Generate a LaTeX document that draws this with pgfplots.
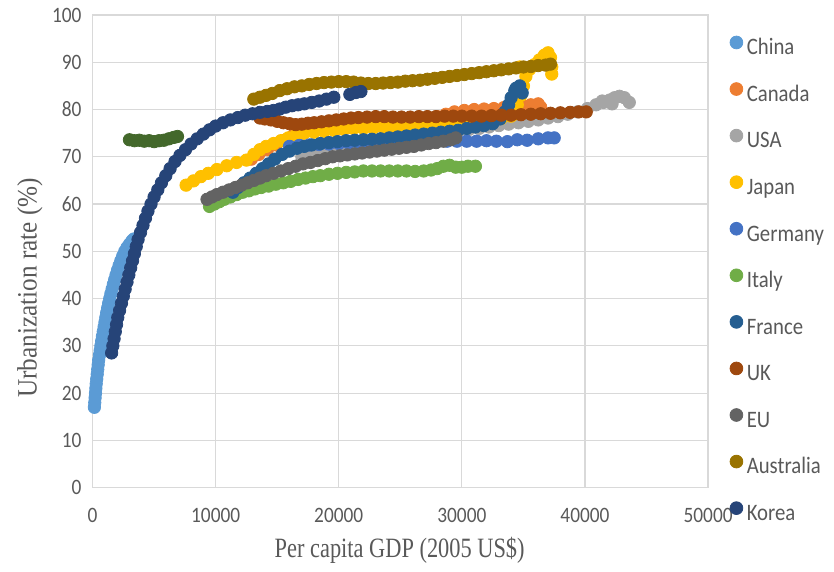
\documentclass[border=0pt]{standalone}
\usepackage{fontspec}
\setmainfont{Liberation Serif}
\newfontfamily\carl[FakeStretch=0.88]{Carlito}
\newfontfamily\tnr[FakeStretch=0.8]{Liberation Serif}
\newfontfamily\tnry[FakeStretch=0.9]{Liberation Serif}
\usepackage{pgfplots}
\pgfplotsset{compat=1.18}
\definecolor{cChina}{HTML}{5B9BD5}
\definecolor{cCanada}{HTML}{ED7D31}
\definecolor{cUSA}{HTML}{A5A5A5}
\definecolor{cJapan}{HTML}{FFC000}
\definecolor{cGermany}{HTML}{4472C4}
\definecolor{cItaly}{HTML}{70AD47}
\definecolor{cFrance}{HTML}{255E91}
\definecolor{cUK}{HTML}{9E480E}
\definecolor{cEU}{HTML}{636363}
\definecolor{cAus}{HTML}{997300}
\definecolor{cKorea}{HTML}{264478}
\definecolor{cDkGreen}{HTML}{43682B}
\definecolor{tcol}{HTML}{595959}
\definecolor{gridc}{HTML}{D9D9D9}
\pgfplotsset{dots/.style={only marks, mark=*, mark size=3.1pt, color=#1, mark options={draw=#1, fill=#1}}}
\begin{document}
\begin{tikzpicture}
\begin{axis}[
  scale only axis, width=308pt, height=236.5pt,
  xmin=0, xmax=50000, ymin=0, ymax=100,
  xtick={0,10000,20000,30000,40000,50000},
  ytick={0,10,20,30,40,50,60,70,80,90,100},
  scaled x ticks=false,
  /pgf/number format/1000 sep={},
  /pgf/number format/assume math mode=true,
  ticklabel style={font=\carl\fontsize{11}{13}\selectfont, text=tcol},
  xticklabel style={yshift=-7pt},
  yticklabel style={xshift=-2pt},
  grid=major, major grid style={draw=gridc, line width=0.6pt},
  axis line style={draw=gridc, line width=0.6pt},
  tick style={draw=none},
  xlabel={Per capita GDP (2005 US\$)},
  ylabel={Urbanization rate (\%)},
  xlabel style={font=\tnr\fontsize{14}{16}\selectfont, text=tcol, at={(axis description cs:0.499,-0.133)}, anchor=center},
  ylabel style={font=\tnry\fontsize{14}{16}\selectfont, text=tcol, at={(axis description cs:-0.1016,0.4225)}, anchor=center},
  legend image code/.code={\draw[#1, mark size=3.2pt] plot coordinates {(0cm,0.75ex)};},
  legend style={at={(axis description cs:1.035,0.4347)}, anchor=west, draw=none, fill=none,
    inner sep=0pt, font=\carl\fontsize{11.8}{13}\selectfont, text=tcol,
    nodes={inner sep=2pt, text height=8pt, text depth=2.5pt}, row sep=8.8pt},
  legend cell align=left,
]
% China
\addplot[dots=cChina] coordinates {(150,17) (180,18) (210,19) (240,20) (270,21) (300,22) (340,23) (380,24) (420,25) (460,26) (500,27) (560,28) (620,29) (680,30) (740,31) (800,32) (870,33) (940,34) (1010,35) (1080,36) (1150,37) (1230,38) (1310,39) (1400,40) (1490,41) (1590,42) (1690,43) (1800,44) (1910,45) (2030,46) (2160,47) (2300,48) (2450,49) (2620,50) (2800,50.8) (3000,51.5) (3200,52.2) (3350,52.6)};
\addlegendentry{China}
% Canada
\addplot[dots=cCanada] coordinates {(12900,69.5) (13500,70.5) (14200,71.5) (14900,72.5) (15600,73.5) (16300,74.5) (17000,75) (17800,75.5) (18600,75.7) (19400,75.9) (20200,76) (21000,76.2) (21800,76.4) (22600,76.5) (23400,76.6) (24200,76.8) (25000,77) (25800,77.2) (26600,77.5) (27300,78) (28000,78.5) (28700,79) (29400,79.5) (30200,79.8) (31000,80) (31800,80.1) (32600,80.2) (33400,80.4) (34200,80.5) (35000,80.7) (35600,81) (36200,81.2) (36400,80.5)};
\addlegendentry{Canada}
% USA
\addplot[dots=cUSA] coordinates {(17000,70) (17800,70.5) (18600,71) (19400,71.5) (20200,72) (21000,72.5) (21800,73) (22600,73.3) (23400,73.6) (24200,73.9) (25000,74.2) (25800,74.5) (26600,74.8) (27400,75) (28200,75.2) (29000,75.4) (29800,75.6) (30600,75.8) (31400,76) (32200,76.3) (33000,76.6) (33800,76.9) (34600,77.2) (35400,77.5) (36200,77.8) (37000,78.2) (37800,78.5) (38600,79) (39400,79.5) (40200,80.2) (40900,81) (41500,81.5) (42000,82) (42400,82.5) (42800,82.8) (43200,82.5) (43600,81.5) (41400,81.8) (42200,81.2)};
\addlegendentry{USA}
% Japan
\addplot[dots=cJapan] coordinates {(7600,64) (8200,64.9) (8800,65.8) (9400,66.5) (10100,67.3) (10900,68.1) (11700,68.8) (12500,69.3) (13100,70.5) (13600,71.5) (14100,72.2) (14700,72.8) (15300,73.4) (15900,74) (16500,74.5) (17200,75) (18000,75.2) (18800,75.4) (19600,75.6) (20400,75.8) (21200,76) (22000,76) (22800,76.1) (23600,76.2) (24400,76.3) (25200,76.4) (26000,76.5) (26800,76.6) (27600,76.7) (28400,76.8) (29200,76.9) (30000,77) (30800,77.2) (31600,77.5) (32400,77.8) (33200,78.1) (34000,78.6) (34200,79) (34500,81) (34800,83) (35000,85) (35200,87) (34700,89) (35500,88.5) (35900,89.5) (36300,90.5) (36700,91.5) (37000,92) (37200,91) (37300,89) (37300,87.5)};
\addlegendentry{Japan}
% Germany
\addplot[dots=cGermany] coordinates {(16000,72.2) (16800,72.4) (17600,72.5) (18400,72.6) (19200,72.7) (20000,72.8) (20800,72.9) (21600,73) (22400,73) (23200,73.1) (24000,73.1) (24800,73.2) (25600,73.2) (26400,73.3) (27200,73.3) (28000,73.3) (28800,73.3) (29600,73.3) (30400,73.3) (31200,73.3) (32000,73.4) (32800,73.3) (33700,73.2) (34500,73.6) (35300,73.5) (36200,73.8) (37000,74) (37500,74)};
\addlegendentry{Germany}
% Italy
\addplot[dots=cItaly] coordinates {(9500,59.5) (9900,60) (10300,60.5) (10700,61) (11200,61.5) (11700,62) (12200,62.5) (12700,62.8) (13200,63.2) (13700,63.5) (14300,63.8) (14900,64.2) (15500,64.5) (16100,64.8) (16700,65.2) (17300,65.5) (17900,65.8) (18500,66) (19200,66.3) (19900,66.5) (20600,66.7) (21300,66.8) (22000,67) (22700,67) (23400,67) (24100,67) (24800,67) (25500,67) (26200,66.9) (26900,67) (27500,67.2) (28000,67.5) (28500,68) (29000,68.2) (29500,67.8) (30000,67.8) (30500,68) (31100,68)};
\addlegendentry{Italy}
% France
\addplot[dots=cFrance] coordinates {(11400,62.5) (11800,63.5) (12300,64.5) (12800,65.5) (13300,66.5) (13800,67.5) (14300,68.5) (14800,69.5) (15400,70.5) (16000,71.2) (16600,71.8) (17200,72.2) (17800,72.5) (18500,72.8) (19200,73) (19900,73.2) (20600,73.4) (21300,73.5) (22000,73.6) (22700,73.7) (23400,73.8) (24100,74) (24800,74.2) (25500,74.4) (26200,74.6) (26900,74.8) (27600,75) (28300,75.2) (29000,75.4) (29700,75.6) (30400,76) (31100,76.3) (31800,76.6) (32500,77) (33100,78) (33500,79.5) (33800,81) (34000,82.5) (34300,84) (34700,85) (34400,84.5) (34900,83.5)};
\addlegendentry{France}
% UK
\addplot[dots=cUK] coordinates {(13600,78.2) (14000,78) (14500,77.8) (15000,77.5) (15500,77.2) (16000,77) (16500,76.8) (17000,76.9) (17500,77.1) (18000,77.2) (18600,77.4) (19200,77.6) (19800,77.8) (20400,78) (21000,78.2) (21600,78.3) (22300,78.4) (23000,78.5) (23700,78.5) (24400,78.4) (25100,78.4) (25800,78.4) (26500,78.5) (27200,78.5) (27900,78.5) (28600,78.6) (29300,78.6) (30000,78.6) (30800,78.6) (31600,78.6) (32400,78.7) (33200,78.8) (34000,78.8) (34800,78.9) (35600,79) (36400,79.1) (37200,79.2) (38000,79.3) (38800,79.4) (39500,79.5) (40100,79.5)};
\addlegendentry{UK}
% EU
\addplot[dots=cEU] coordinates {(9300,61) (9700,61.5) (10100,62) (10600,62.5) (11100,63) (11600,63.5) (12100,64) (12600,64.5) (13100,65) (13600,65.5) (14100,66) (14700,66.5) (15300,67) (15900,67.5) (16500,68) (17100,68.5) (17700,68.8) (18300,69.2) (18900,69.6) (19500,70) (20100,70.2) (20700,70.4) (21300,70.6) (21900,70.8) (22500,71) (23100,71.2) (23700,71.4) (24300,71.6) (24900,71.8) (25500,72) (26100,72.2) (26700,72.5) (27300,72.8) (27900,73) (28500,73.3) (29100,73.6) (29500,74)};
\addlegendentry{EU}
% Australia
\addplot[dots=cAus] coordinates {(13100,82.2) (13600,82.6) (14100,83) (14600,83.4) (15200,84) (15800,84.4) (16400,84.8) (17000,85) (17600,85.3) (18200,85.5) (18800,85.7) (19400,85.8) (20000,85.9) (20600,85.9) (21200,85.8) (21800,85.6) (22400,85.5) (23000,85.5) (23600,85.6) (24200,85.7) (24800,85.8) (25400,86) (26000,86.1) (26600,86.2) (27200,86.4) (27800,86.6) (28400,86.8) (29000,87) (29600,87.2) (30200,87.4) (30800,87.6) (31400,87.8) (32000,88) (32600,88.2) (33200,88.4) (33800,88.6) (34400,88.8) (35000,89) (35600,89.1) (36200,89.3) (36800,89.4) (37200,89.6)};
\addlegendentry{Australia}
% unnamed dark green series
\addplot[dots=cDkGreen, forget plot] coordinates {(3000,73.6) (3400,73.4) (3800,73.5) (4200,73.3) (4600,73.4) (5000,73.2) (5400,73.4) (5800,73.5) (6200,73.8) (6600,74.1) (6900,74.3)};
% Korea
\addplot[dots=cKorea] coordinates {(1550,28.5) (1650,30) (1750,31.5) (1850,33) (1950,34.5) (2050,36) (2200,37.5) (2350,39) (2500,40.5) (2650,42) (2800,43.5) (2950,45) (3100,46.5) (3250,48) (3400,49.5) (3550,51) (3700,52.5) (3900,54) (4100,55.5) (4300,57) (4500,58.5) (4750,60) (5000,61.5) (5300,63) (5600,64.5) (5950,66) (6300,67.5) (6700,69) (7100,70.3) (7550,71.5) (8000,72.7) (8500,73.8) (9000,74.8) (9500,75.7) (10000,76.5) (10600,77.2) (11200,77.8) (11800,78.3) (12400,78.8) (13000,79.1) (13600,79.4) (14200,79.6) (14700,79.8) (15200,80.1) (15700,80.5) (16200,80.8) (16700,81) (17200,81.2) (17800,81.5) (18400,81.8) (19000,82.2) (19600,82.6) (20900,83.2) (21400,83.6) (21800,83.8)};
\addlegendentry{Korea}
\end{axis}
\pgfresetboundingbox
\path[use as bounding box] (-46.3pt,-42pt) rectangle (371pt,244pt);
\end{tikzpicture}
\end{document}
